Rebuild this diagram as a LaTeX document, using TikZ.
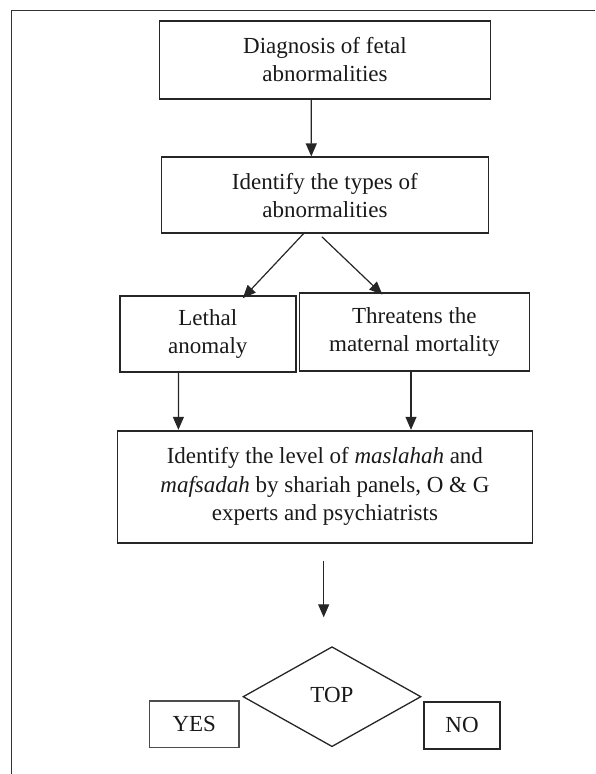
\documentclass[tikz,border=0pt]{standalone}
\usepackage{fontspec}
\setmainfont{Liberation Serif}
\usetikzlibrary{arrows.meta,shapes.geometric}
\begin{document}
\begin{tikzpicture}[x=1pt,y=-1pt,
  every node/.style={font=\fontsize{23}{28.5}\selectfont, text=black!90, align=center, inner sep=0pt},
  box/.style={draw=black!85, line width=1.8pt, rectangle},
  arr/.style={draw=black!85, line width=1.2pt, -{Triangle[width=11pt,length=13pt]}},
  frameline/.style={draw=black!80, line width=1.5pt}]
\useasboundingbox (0,0) rectangle (595,774);
\draw[frameline] (11.5,774) -- (11.5,10.7) -- (595,10.7);

\node[box, minimum width=331pt, minimum height=78pt] (b1) at (325,59.7) {Diagnosis of fetal\\abnormalities};
\node[box, minimum width=327pt, minimum height=76pt] (b2) at (324.9,195.3) {Identify the types of\\abnormalities};
\node[box, minimum width=175.7pt, minimum height=76.6pt] (b3) at (207.8,334) {Lethal\\anomaly};
\node[box, minimum width=230pt, minimum height=78.3pt] (b4) at (414.4,331.9) {Threatens the\\maternal mortality};
\node[box, minimum width=415pt, minimum height=112pt] (b5) at (324.9,486.7) {Identify the level of \textit{maslahah} and\\\textit{mafsadah} by shariah panels, O \& G\\experts and psychiatrists};
\node[draw=black!85, line width=1.3pt, diamond, minimum width=178pt, minimum height=100pt, aspect=1.78] (top) at (332,696.7) {\raisebox{3pt}{TOP}};
\node[draw=black!70, line width=1.3pt, rectangle, minimum width=89.5pt, minimum height=46.7pt] (yes) at (194.3,724.4) {YES};
\node[box, minimum width=75.5pt, minimum height=47pt] (no) at (462,725.2) {NO};

\coordinate (s5) at (323.7,560.7);
\coordinate (e5) at (323.7,617.3);

\draw[arr] ([xshift=-13.8pt]b1.south) -- ([xshift=-13.6pt]b2.north);
\draw[arr] ([xshift=-20pt,yshift=2pt]b2.south) -- ([xshift=35pt,yshift=-3.4pt]b3.north);
\draw[arr] ([xshift=-3pt,yshift=-2.6pt]b2.south) -- ([xshift=-32pt,yshift=-2.7pt]b4.north);
\draw[arr] ([xshift=-29.4pt]b3.south) -- ([xshift=-146.5pt]b5.north);
\draw[arr] ([xshift=-3.4pt]b4.south) -- ([xshift=86.1pt]b5.north);
\draw[arr] (s5) -- (e5);
\end{tikzpicture}
\end{document}
